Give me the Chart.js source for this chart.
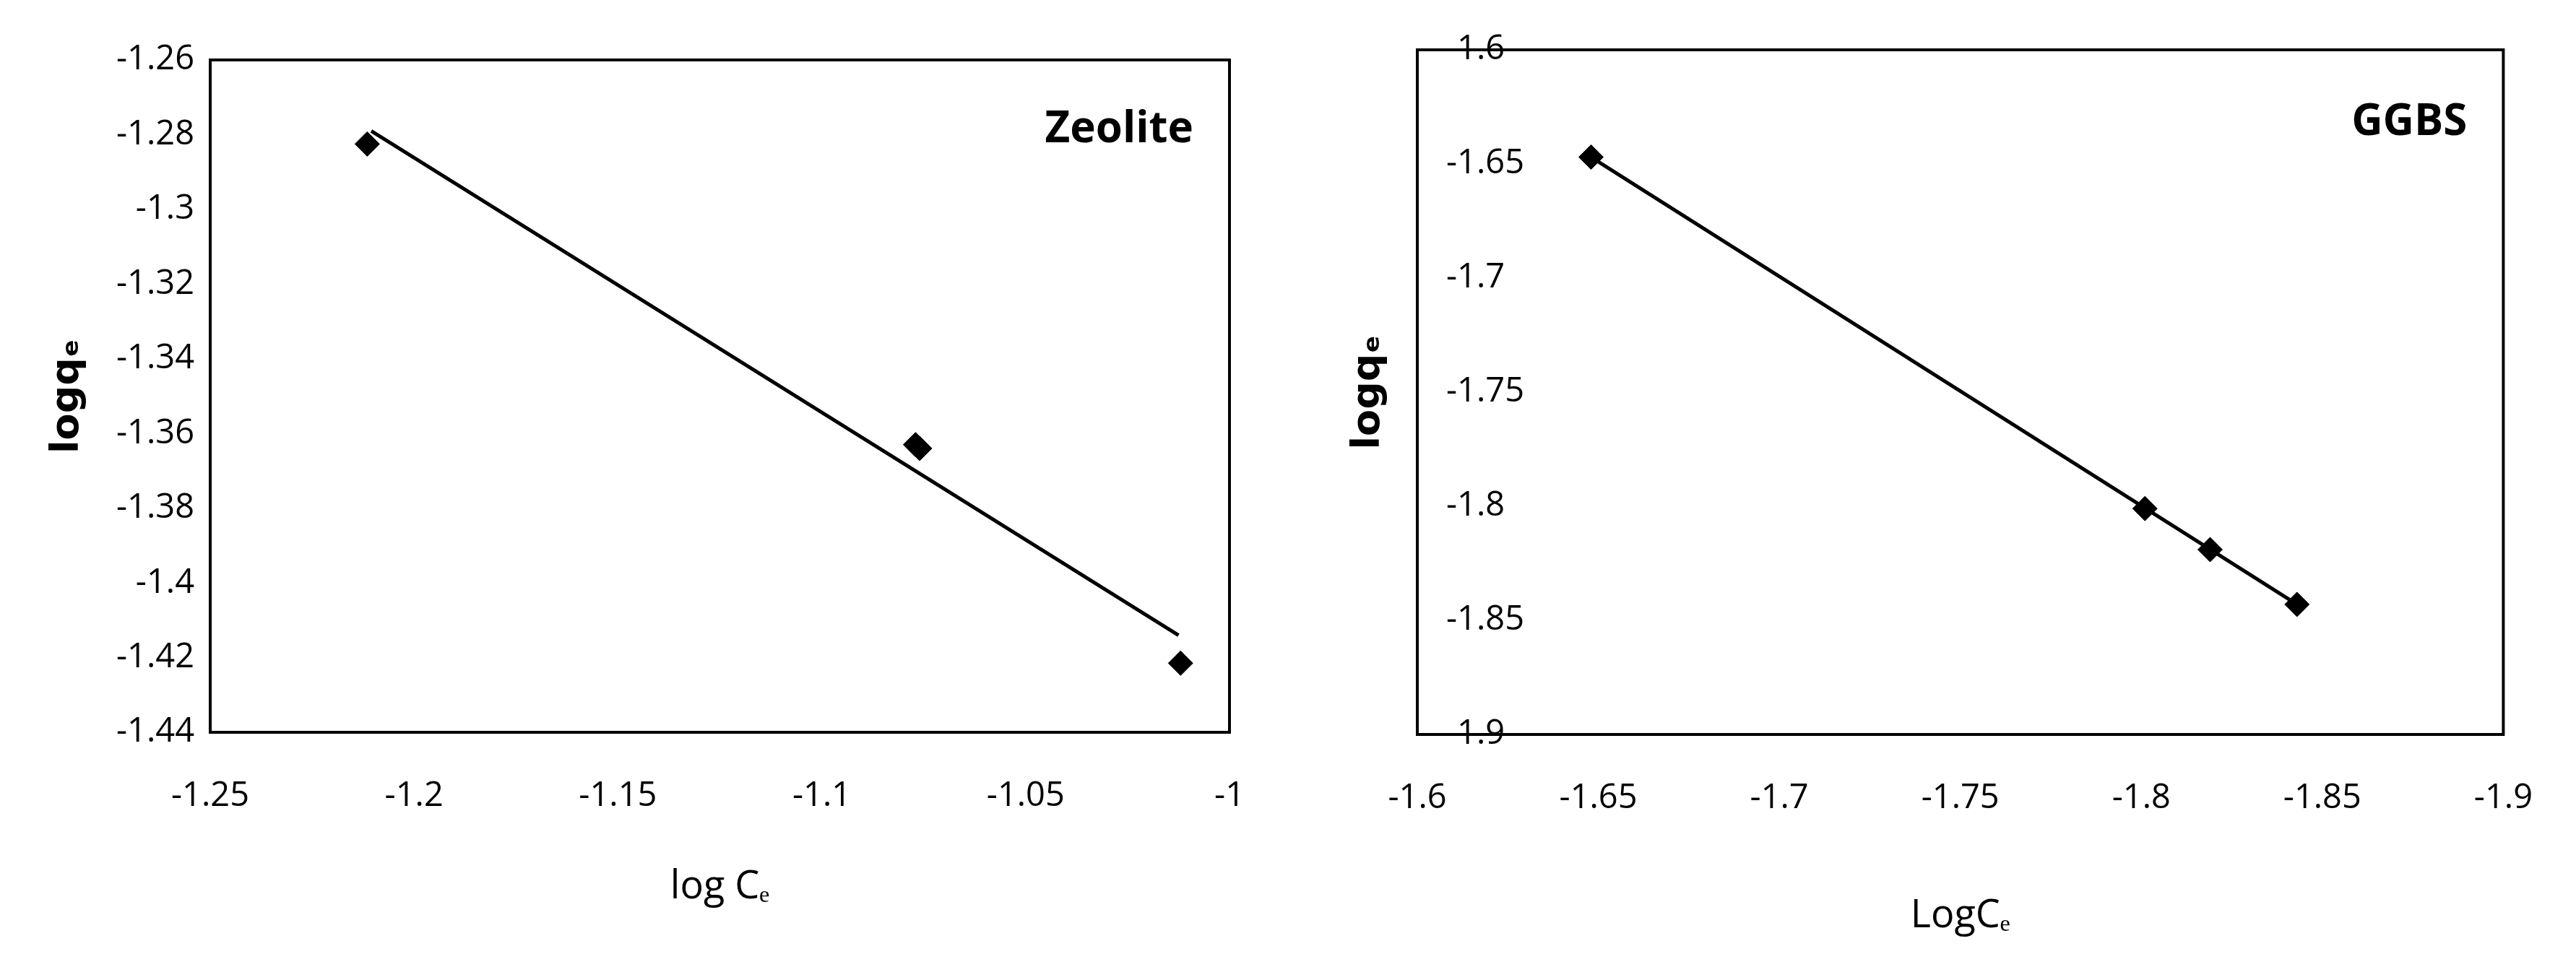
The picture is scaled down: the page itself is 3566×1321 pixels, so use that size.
<!DOCTYPE html>
<html>
<head>
<meta charset="utf-8">
<script src="https://cdn.jsdelivr.net/npm/chart.js@4.4.0/dist/chart.umd.min.js"></script>
<style>
  body { margin: 0; background: #fff; }
  .box { position: absolute; top: 0; width: 1783px; height: 1321px; }
</style>
</head>
<body>
<div class="box" style="left:0"><canvas id="zeo"></canvas></div>
<div class="box" style="left:1783px"><canvas id="ggbs"></canvas></div>
<script>
// Zeolite
const zeoX = [-1.2115, -1.0770, -1.0760, -1.0120];
const zeoY = [-1.2825, -1.3630, -1.3640, -1.4215];
const zeoFitX = [-1.2105, -1.0125];
const zeoFitY = [-1.2790, -1.4140];
const zeoXTicks = [-1.25, -1.2, -1.15, -1.1, -1.05, -1];
const zeoYTicks = [-1.26, -1.28, -1.3, -1.32, -1.34, -1.36, -1.38, -1.4, -1.42, -1.44];

// GGBS
const ggbsX = [-1.648, -1.801, -1.819, -1.843];
const ggbsY = [-1.647, -1.801, -1.819, -1.843];
const ggbsFitX = [-1.648, -1.843];
const ggbsFitY = [-1.647, -1.843];
const ggbsXTicks = [-1.6, -1.65, -1.7, -1.75, -1.8, -1.85, -1.9];
const ggbsYTicks = [-1.6, -1.65, -1.7, -1.75, -1.8, -1.85, -1.9];

const tickFont = { family: 'Open Sans', size: 47 };
const titleFont = { family: 'Open Sans', size: 54 };

const boxPlugin = {
    id: 'box',
    afterDraw(chart, args, opts) {
        const a = chart.chartArea, c = chart.ctx;
        c.save();
        c.strokeStyle = '#000';
        c.lineWidth = 4;
        c.strokeRect(a.left, a.top, a.right - a.left, a.bottom - a.top);
        c.font = 'bold 60px "Open Sans"';
        c.fillStyle = '#000';
        c.textAlign = 'right';
        c.textBaseline = 'top';
        c.fillText(opts.label, a.right - 50, opts.labelTop);
        c.restore();
    }
};

function pts(xs, ys) {
    return xs.map((x, i) => ({ x: x, y: ys[i] }));
}

function makeChart(id, cfg) {
    return new Chart(document.getElementById(id), {
        type: 'scatter',
        data: {
            datasets: [{
                data: pts(cfg.x, cfg.y),
                pointStyle: 'rectRot',
                pointRadius: 17,
                backgroundColor: '#000',
                borderColor: '#000',
                showLine: false
            }, {
                data: pts(cfg.fitX, cfg.fitY),
                showLine: true,
                borderColor: '#000',
                borderWidth: 5,
                pointRadius: 0
            }]
        },
        options: {
            responsive: false,
            animation: false,
            devicePixelRatio: 1,
            layout: { padding: cfg.padding },
            plugins: {
                legend: { display: false },
                tooltip: { enabled: false },
                box: { label: cfg.label, labelTop: cfg.labelTop }
            },
            scales: {
                x: {
                    type: 'linear',
                    reverse: cfg.reverse,
                    min: cfg.xMin, max: cfg.xMax,
                    afterBuildTicks: s => { s.ticks = cfg.xTicks.map(v => ({ value: v })); },
                    afterFit: s => { s.height = cfg.xH; },
                    grid: { display: false, drawTicks: false },
                    border: { display: false },
                    ticks: { color: '#000', font: tickFont, padding: cfg.xPad, maxRotation: 0, callback: v => String(v) },
                    title: { display: true, text: cfg.xTitle, color: '#000', font: titleFont, padding: { top: 0, bottom: 0 } }
                },
                y: {
                    min: cfg.yMin, max: cfg.yMax,
                    afterBuildTicks: s => { s.ticks = cfg.yTicks.map(v => ({ value: v })); },
                    afterFit: s => { s.width = cfg.yW; },
                    grid: { display: false, drawTicks: false },
                    border: { display: false },
                    ticks: { color: '#000', font: tickFont, padding: cfg.yPad, mirror: cfg.mirror, callback: v => String(v) },
                    title: { display: true, text: 'logqₑ', color: '#000', font: { family: 'DejaVu Sans', size: 54, weight: 'bold' }, padding: { bottom: 0, top: 0 } }
                }
            }
        },
        plugins: [boxPlugin]
    });
}

function sizeCanvas(id) {
    const c = document.getElementById(id);
    c.width = 1783; c.height = 1321;
    c.style.width = '1783px'; c.style.height = '1321px';
}
sizeCanvas('zeo');
sizeCanvas('ggbs');

makeChart('zeo', {
    x: zeoX, y: zeoY, fitX: zeoFitX, fitY: zeoFitY,
    xTicks: zeoXTicks, yTicks: zeoYTicks,
    xMin: -1.25, xMax: -1, yMin: -1.44, yMax: -1.26, reverse: false,
    xTitle: 'log Cₑ', label: 'Zeolite', labelTop: 150,
    padding: { top: 83, right: 72, bottom: 60, left: 62 },
    xH: 247, yW: 229, xPad: 60, yPad: 22, mirror: false
});

makeChart('ggbs', {
    x: ggbsX, y: ggbsY, fitX: ggbsFitX, fitY: ggbsFitY,
    xTicks: ggbsXTicks, yTicks: ggbsYTicks,
    xMin: -1.9, xMax: -1.6, yMin: -1.9, yMax: -1.6, reverse: true,
    xTitle: 'LogCₑ', label: 'GGBS', labelTop: 140,
    padding: { top: 69, right: 72, bottom: 20, left: 80 },
    xH: 284, yW: 99, xPad: 60, yPad: 40, mirror: true
});
</script>
</body>
</html>
